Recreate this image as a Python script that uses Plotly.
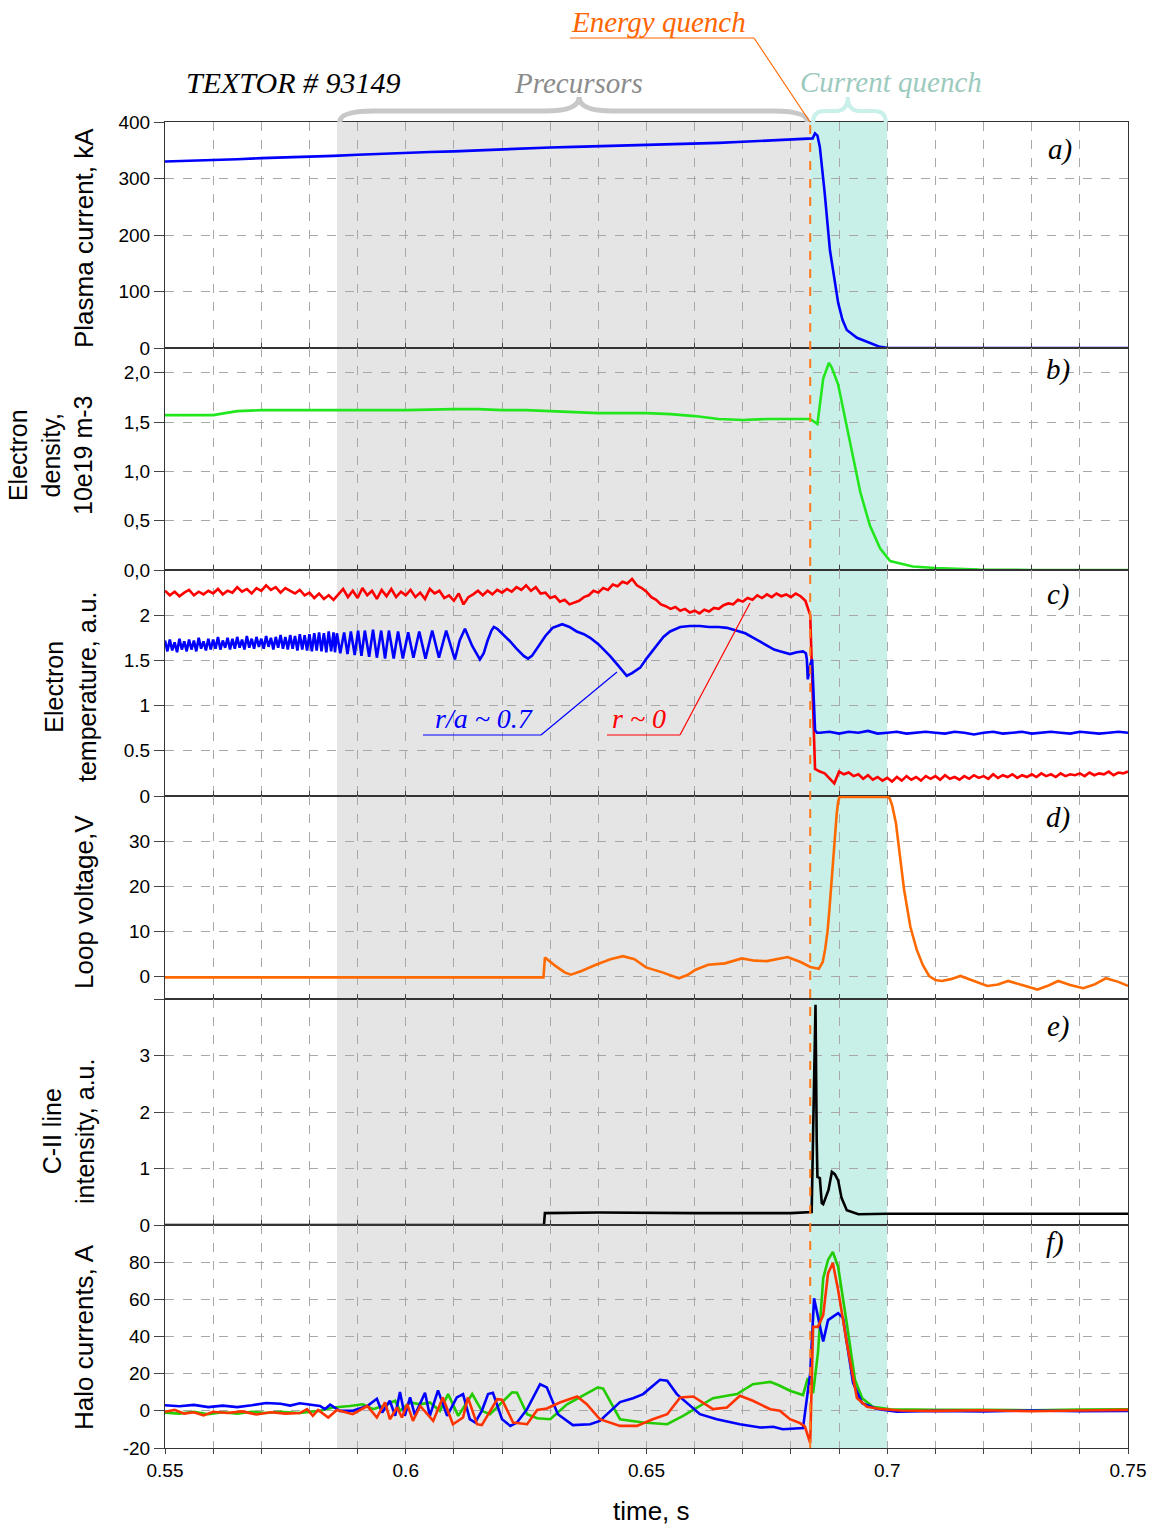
import numpy as np
import plotly.graph_objects as go
from plotly.subplots import make_subplots

# ---------------- data ----------------
# a) plasma current, kA
ip_t = [0.550, 0.555, 0.560, 0.565, 0.570, 0.575, 0.580, 0.585, 0.590, 0.595, 0.600, 0.605, 0.610, 0.615,
        0.620, 0.625, 0.630, 0.635, 0.640, 0.645, 0.650, 0.655, 0.660, 0.665, 0.670, 0.675, 0.680, 0.6835,
        0.6845, 0.6850, 0.6855, 0.6860, 0.6870, 0.6881, 0.6890, 0.6898, 0.6907, 0.6916, 0.6937, 0.6960,
        0.6985, 0.7000, 0.710, 0.720, 0.730, 0.740, 0.750]
ip = [330, 331, 333, 334, 336, 337, 339, 340, 342, 344, 346, 347, 348, 350,
      352, 353, 355, 356, 357, 358, 359, 360, 361, 363, 365, 367, 369, 370,
      371, 380, 376, 356, 275, 173, 120, 80, 50, 32, 18, 10,
      2, 0.5, 0, 0, 0, 0, 0]

# b) electron density, 1e19 m-3
ne_t = [0.550, 0.555, 0.560, 0.5625, 0.565, 0.570, 0.580, 0.590, 0.600, 0.610, 0.615, 0.620, 0.625, 0.630,
        0.635, 0.640, 0.645, 0.650, 0.655, 0.660, 0.665, 0.670, 0.675, 0.680, 0.684, 0.6855, 0.686, 0.6867,
        0.6879, 0.6885, 0.6898, 0.6910, 0.6923, 0.6944, 0.6964, 0.6985, 0.7006, 0.7053, 0.710, 0.719,
        0.730, 0.740, 0.750]
ne = [1.57, 1.57, 1.57, 1.59, 1.61, 1.62, 1.62, 1.62, 1.62, 1.63, 1.63, 1.62, 1.62, 1.61,
      1.60, 1.59, 1.59, 1.59, 1.58, 1.56, 1.53, 1.52, 1.53, 1.53, 1.53, 1.48, 1.65, 1.94,
      2.10, 2.05, 1.88, 1.60, 1.27, 0.79, 0.45, 0.22, 0.09, 0.035, 0.02, 0.005,
      0.0, 0.0, 0.0]

# c) electron temperature, r ~ 0 (sampled every 1 ms from 0.550 s to 0.750 s)
te_core_start, te_core_step = 0.550, 0.001
te_core = [2.27, 2.22, 2.26, 2.21, 2.25, 2.28, 2.22, 2.26, 2.23, 2.27,
           2.24, 2.29, 2.23, 2.27, 2.25, 2.31, 2.26, 2.29, 2.24, 2.30,
           2.27, 2.33, 2.28, 2.31, 2.25, 2.30, 2.27, 2.24, 2.28, 2.22,
           2.25, 2.19, 2.24, 2.18, 2.22, 2.17, 2.23, 2.29, 2.20, 2.27,
           2.19, 2.30, 2.22, 2.27, 2.18, 2.28, 2.21, 2.29, 2.20, 2.26,
           2.22, 2.28, 2.20, 2.25, 2.18, 2.29, 2.24, 2.27, 2.19, 2.22,
           2.16, 2.24, 2.12, 2.20, 2.23, 2.27, 2.22, 2.27, 2.23, 2.28,
           2.25, 2.29, 2.26, 2.31, 2.28, 2.33, 2.27, 2.31, 2.24, 2.25,
           2.19, 2.21, 2.15, 2.17, 2.12, 2.14, 2.16, 2.20, 2.22, 2.27,
           2.25, 2.30, 2.28, 2.34, 2.32, 2.37, 2.35, 2.40, 2.33, 2.30,
           2.26, 2.20, 2.17, 2.12, 2.10, 2.07, 2.09, 2.05, 2.07, 2.03,
           2.05, 2.02, 2.06, 2.04, 2.08, 2.07, 2.11, 2.13, 2.12, 2.17,
           2.15, 2.19, 2.17, 2.22, 2.19, 2.23, 2.20, 2.24, 2.21, 2.23,
           2.20, 2.24, 2.21, 2.16, 2.00,
           0.30, 0.27, 0.25, 0.20, 0.14,
           0.27, 0.24, 0.26, 0.22, 0.24, 0.19, 0.23, 0.18, 0.21, 0.17,
           0.20, 0.16, 0.21, 0.17, 0.22, 0.18, 0.21, 0.17, 0.22, 0.19,
           0.22, 0.18, 0.23, 0.19, 0.21, 0.18, 0.22, 0.19, 0.23, 0.20,
           0.22, 0.19, 0.24, 0.20, 0.23, 0.21, 0.24, 0.20, 0.23, 0.21,
           0.24, 0.21, 0.25, 0.22, 0.24, 0.21, 0.25, 0.22, 0.24, 0.23,
           0.25, 0.22, 0.26, 0.23, 0.25, 0.24, 0.27, 0.23, 0.26, 0.25,
           0.27]

# c) electron temperature, r/a ~ 0.7
# dense part sampled every 0.5 ms from 0.5500 s to 0.5850 s
te_edge_dense_start, te_edge_dense_step = 0.5500, 0.0005
te_edge_dense = [1.72, 1.60, 1.73, 1.61, 1.70, 1.59, 1.74, 1.62, 1.71, 1.60,
                 1.73, 1.62, 1.72, 1.60, 1.75, 1.63, 1.71, 1.61, 1.74, 1.62,
                 1.73, 1.63, 1.76, 1.62, 1.72, 1.64, 1.75, 1.62, 1.74, 1.63,
                 1.76, 1.64, 1.73, 1.62, 1.77, 1.64, 1.74, 1.63, 1.76, 1.65,
                 1.74, 1.63, 1.77, 1.65, 1.75, 1.62, 1.76, 1.64, 1.78, 1.63,
                 1.76, 1.62, 1.78, 1.63, 1.77, 1.61, 1.79, 1.62, 1.78, 1.61,
                 1.79, 1.60, 1.80, 1.61, 1.81, 1.60, 1.80, 1.59, 1.82, 1.60,
                 1.81]
te_edge_osc_t = [0.5853, 0.5857, 0.5864, 0.5872, 0.5879, 0.5886, 0.5894, 0.5901, 0.5908, 0.5915,
                 0.5924, 0.5932, 0.5940, 0.5949, 0.5957, 0.5965, 0.5975, 0.5984, 0.5994, 0.6005,
                 0.6016, 0.6028, 0.6041, 0.6055, 0.6069, 0.6084, 0.6102, 0.6112, 0.6123, 0.6138,
                 0.6154, 0.6162, 0.6170, 0.6178, 0.6183, 0.6190, 0.6200, 0.6215, 0.6230, 0.6245,
                 0.6254, 0.6262, 0.6275, 0.6290, 0.6305, 0.6325, 0.6340, 0.6355, 0.6370, 0.6383,
                 0.6400, 0.6415, 0.6424, 0.6440, 0.6452, 0.6459, 0.6470, 0.6487, 0.6500, 0.6518,
                 0.6535, 0.6549, 0.6570, 0.6590, 0.6611, 0.6630, 0.6650, 0.6667, 0.6685, 0.6705,
                 0.6725, 0.6750, 0.6765, 0.6777, 0.6798, 0.6812, 0.6825, 0.6831, 0.6833, 0.6835,
                 0.6840, 0.6844, 0.6846, 0.6850, 0.6854]
te_edge_osc = [1.59, 1.80, 1.58, 1.81, 1.57, 1.82, 1.56, 1.83, 1.55, 1.83,
               1.54, 1.84, 1.53, 1.83, 1.52, 1.83, 1.52, 1.82, 1.52, 1.81,
               1.53, 1.82, 1.52, 1.83, 1.53, 1.83, 1.51, 1.72, 1.85, 1.66,
               1.51, 1.58, 1.72, 1.83, 1.87, 1.85, 1.80, 1.72, 1.63, 1.55,
               1.52, 1.55, 1.65, 1.77, 1.86, 1.90, 1.87, 1.82, 1.79, 1.75,
               1.68, 1.60, 1.55, 1.45, 1.38, 1.33, 1.36, 1.42, 1.52, 1.65,
               1.76, 1.82, 1.87, 1.88, 1.88, 1.87, 1.87, 1.86, 1.83, 1.80,
               1.74, 1.66, 1.62, 1.60, 1.57, 1.59, 1.60, 1.58, 1.51, 1.29,
               1.45, 1.51, 1.30, 0.73, 0.70]
# after the quench, every 2 ms from 0.686 s to 0.750 s
te_edge_post_start, te_edge_post_step = 0.686, 0.002
te_edge_post = [0.70, 0.71, 0.69, 0.71, 0.70, 0.72, 0.69, 0.70, 0.71, 0.69,
                0.70, 0.71, 0.70, 0.69, 0.71, 0.70, 0.68, 0.70, 0.71, 0.69,
                0.70, 0.71, 0.69, 0.70, 0.71, 0.70, 0.69, 0.71, 0.70, 0.69,
                0.70, 0.71, 0.70]

# d) loop voltage, V
lv_t = [0.550, 0.6000, 0.6286, 0.6289, 0.6310, 0.6330, 0.6343, 0.6365, 0.6395, 0.6425, 0.6451, 0.6475,
        0.6499, 0.6533, 0.6567, 0.6585, 0.6602, 0.6628, 0.6663, 0.6698, 0.6725, 0.6750, 0.6793, 0.6820,
        0.6840, 0.6858, 0.6866, 0.6871, 0.6876, 0.6880, 0.6884, 0.6888, 0.6892, 0.6895, 0.6898, 0.6901,
        0.6950, 0.7000, 0.7005, 0.7010, 0.7018, 0.7026, 0.7035, 0.7048, 0.7061, 0.7074, 0.7087, 0.7100,
        0.7113, 0.7132, 0.7152, 0.7180, 0.7208, 0.7230, 0.7251, 0.7280, 0.7312, 0.7335, 0.7355, 0.7380,
        0.7407, 0.7430, 0.7454, 0.7480, 0.7500]
lv = [-0.2, -0.2, -0.2, 4.2, 2.4, 0.9, 0.4, 1.2, 2.6, 3.8, 4.5, 3.8,
      2.0, 0.9, -0.4, 0.3, 1.5, 2.6, 2.9, 4.0, 3.5, 3.4, 4.3, 3.2,
      2.1, 1.7, 3.2, 6.0, 10.0, 15.0, 21.0, 26.6, 32.0, 36.0, 38.8, 39.8,
      39.8, 39.8, 39.5, 38.0, 34.0, 27.0, 19.2, 11.0, 6.0, 2.5, 0.1, -0.8,
      -1.0, -0.6, 0.1, -1.0, -2.1, -1.8, -1.0, -1.9, -2.9, -2.0, -1.0, -1.9,
      -2.6, -1.8, -0.4, -1.2, -2.1]

# e) C-II line intensity, a.u.
c2_t = [0.5500, 0.6287, 0.6289, 0.6400, 0.6600, 0.6800, 0.6843, 0.6847, 0.6851, 0.68535, 0.6855, 0.6860,
        0.6864, 0.6867, 0.6878, 0.6885, 0.6891, 0.6898, 0.6905, 0.6916, 0.6940, 0.7000, 0.7200, 0.7500]
c2 = [0.0, 0.0, 0.21, 0.22, 0.21, 0.21, 0.23, 2.2, 3.9, 1.5, 0.85, 0.83,
      0.39, 0.37, 0.62, 0.94, 0.90, 0.79, 0.48, 0.26, 0.19, 0.20, 0.20, 0.20]

# f) halo currents, A
halo_blue_t = [0.550, 0.553, 0.556, 0.559, 0.562, 0.565, 0.568, 0.571, 0.574, 0.576,
               0.5780, 0.5801, 0.5822, 0.5832, 0.5843, 0.5863, 0.5890, 0.5920, 0.5940, 0.5951,
               0.5967, 0.5978, 0.5988, 0.5998, 0.6009, 0.6019, 0.6040, 0.6050, 0.6067, 0.6086,
               0.6106, 0.6119, 0.6133, 0.6144, 0.6158, 0.6171, 0.6181, 0.6200, 0.6217, 0.6231,
               0.6252, 0.6279, 0.6293, 0.6316, 0.6347, 0.6383, 0.6403, 0.6445, 0.6472, 0.6493,
               0.6528, 0.6543, 0.6563, 0.6611, 0.6646, 0.6694, 0.6736, 0.6763, 0.6783, 0.6825,
               0.6840, 0.6848, 0.6867, 0.6877, 0.6898, 0.6908, 0.6929, 0.6948, 0.6979, 0.7020,
               0.710, 0.720, 0.730, 0.740, 0.750]
halo_blue = [3.0, 2.5, 3.2, 2.0, 2.8, 2.0, 3.0, 4.2, 3.8, 2.8,
             4.1, 3.3, 2.6, 0.9, 3.3, 0.0, 0.0, 2.6, 6.5, -0.9,
             5.4, -2.7, 10.1, -2.7, 7.2, -2.3, 9.7, -2.7, 11.0, -2.7,
             7.2, 9.0, -4.5, -6.3, 0.0, 9.0, 9.7, -4.5, -8.1, -6.3,
             0.9, 14.3, 12.6, -1.8, -7.7, -7.2, -5.4, 4.7, 6.8, 9.0,
             16.7, 16.2, 9.0, -1.8, -4.5, -7.2, -9.0, -8.6, -9.9, -9.3,
             20.3, 60.6, 37.3, 48.8, 52.5, 50.0, 15.0, 4.1, 1.0, -0.5,
             0.0, -0.3, 0.2, -0.2, 0.0]
halo_green_t = [0.550, 0.553, 0.556, 0.559, 0.562, 0.565, 0.568, 0.571, 0.574, 0.576,
                0.5780, 0.5822, 0.5849, 0.5884, 0.5911, 0.5932, 0.5953, 0.5978, 0.5988, 0.6009,
                0.6030, 0.6050, 0.6071, 0.6088, 0.6109, 0.6138, 0.6158, 0.6175, 0.6196, 0.6221,
                0.6231, 0.6252, 0.6273, 0.6300, 0.6335, 0.6368, 0.6399, 0.6410, 0.6445, 0.6493,
                0.6532, 0.6543, 0.6576, 0.6617, 0.6638, 0.6667, 0.6688, 0.6721, 0.6757, 0.6777,
                0.6798, 0.6825, 0.6835, 0.6846, 0.6856, 0.6867, 0.6877, 0.6887, 0.6898, 0.6916,
                0.6933, 0.6948, 0.6970, 0.7006, 0.710, 0.720, 0.730, 0.740, 0.750]
halo_green = [-1.0, -1.5, -0.5, -1.8, -0.8, -1.5, -0.5, -1.2, -0.5, -1.0,
              -1.2, 0.0, 1.8, 2.6, 3.5, 0.9, 2.6, 5.4, 0.0, 4.5,
              3.5, 4.5, 0.0, 9.0, -2.7, 9.0, 0.0, -1.8, 3.6, 10.0,
              9.7, -1.8, -4.0, -4.5, 3.5, 8.0, 12.6, 12.0, -4.5, -6.3,
              -7.2, -7.2, -2.7, 3.6, 6.8, 8.1, 9.0, 14.3, 15.6, 13.5,
              10.8, 8.5, 17.6, 9.5, 31.0, 71.4, 81.2, 85.5, 77.5, 47.0,
              16.6, 6.8, 2.2, 0.8, 0.5, 0.6, 0.3, 0.7, 0.8]
halo_red_t = [0.550, 0.552, 0.554, 0.556, 0.558, 0.560, 0.563, 0.566, 0.569, 0.572, 0.575,
              0.5780, 0.5795, 0.5807, 0.5818, 0.5839, 0.5857, 0.5890, 0.5920, 0.5940, 0.5957,
              0.5967, 0.5982, 0.5992, 0.6003, 0.6015, 0.6030, 0.6057, 0.6077, 0.6098, 0.6119,
              0.6129, 0.6148, 0.6158, 0.6190, 0.6200, 0.6223, 0.6252, 0.6273, 0.6293, 0.6320,
              0.6356, 0.6376, 0.6403, 0.6445, 0.6480, 0.6513, 0.6543, 0.6570, 0.6597, 0.6638,
              0.6667, 0.6694, 0.6721, 0.6757, 0.6777, 0.6798, 0.6819, 0.6829, 0.6840, 0.6846,
              0.6856, 0.6867, 0.6877, 0.6887, 0.6898, 0.6916, 0.6937, 0.6958, 0.6985, 0.7027,
              0.710, 0.720, 0.730, 0.740, 0.750]
halo_red = [-0.5, 0.5, -1.5, -0.8, -2.5, -0.5, -1.2, -0.3, -2.0, -0.8, -1.5,
            -1.2, 0.9, -2.7, 0.5, -3.6, 0.5, -1.8, 2.6, -3.6, 4.5,
            -4.5, 1.8, -3.6, 3.6, -5.4, 2.6, -5.4, 7.2, -7.2, -3.6,
            7.2, -7.2, -7.7, 6.3, 6.0, -6.3, -7.2, 0.5, 1.3, 4.5,
            7.7, 3.6, -4.5, -8.1, -8.1, -4.5, -1.8, 7.2, 7.7, 0.9,
            1.8, 8.1, 5.4, 0.9, 0.0, -4.5, -6.6, -8.5, -17.3, 45.2,
            45.2, 51.5, 74.0, 79.5, 65.0, 36.5, 6.9, 2.2, 1.0, 0.2,
            0.0, 0.3, -0.2, 0.2, 0.5]

# phases (s)
precursor_start = 0.5857
energy_quench = 0.684
current_quench_end = 0.700

# axis ticks
x_tick_vals = [round(0.55 + 0.01 * i, 2) for i in range(21)]
x_tick_labels = {0.55: "0.55", 0.6: "0.6", 0.65: "0.65", 0.7: "0.7", 0.75: "0.75"}
y_ticks = [
    ([0, 100, 200, 300, 400], ["0", "100", "200", "300", "400"], [0, 400]),
    ([0, 0.5, 1.0, 1.5, 2.0], ["0,0", "0,5", "1,0", "1,5", "2,0"], [0, 2.25]),
    ([0, 0.5, 1, 1.5, 2], ["0", "0.5", "1", "1.5", "2"], [0, 2.5]),
    ([-5, 0, 10, 20, 30], ["", "0", "10", "20", "30"], [-5, 40]),
    ([0, 1, 2, 3], ["0", "1", "2", "3"], [0, 4]),
    ([-20, 0, 20, 40, 60, 80], ["-20", "0", "20", "40", "60", "80"], [-20, 100]),
]
y_titles = ["Plasma current, kA", "Electron<br>density,<br>10e19 m-3", "Electron<br>temperature, a.u.",
            "Loop voltage,V", "C-II line<br>intensity, a.u.", "Halo currents, A"]
panel_labels = ["a)", "b)", "c)", "d)", "e)", "f)"]

# ---------------- figure ----------------
W, H = 1157, 1528
PL, PR, PT, PB = 165, 1128, 122, 1448          # plot area in page pixels
PW, PH = PR - PL, PB - PT
L, T = PL, PT
R, B = W - L - PW, H - T - PH


def px(xp):
    return (xp - PL) / PW


def py(yp):
    return (PB - yp) / PH


fig = make_subplots(rows=6, cols=1, shared_xaxes=True, vertical_spacing=0,
                    row_heights=[226, 222, 226, 203, 226, 223])

LW = 2.6
fig.add_trace(go.Scatter(x=ip_t, y=ip, mode="lines", line=dict(color="#0000ff", width=LW)), row=1, col=1)
fig.add_trace(go.Scatter(x=ne_t, y=ne, mode="lines", line=dict(color="#22e61e", width=LW)), row=2, col=1)

te_core_t = np.round(te_core_start + te_core_step * np.arange(len(te_core)), 4)
fig.add_trace(go.Scatter(x=te_core_t, y=te_core, mode="lines", line=dict(color="#ff0000", width=LW)), row=3, col=1)
te_edge_t = np.concatenate([
    np.round(te_edge_dense_start + te_edge_dense_step * np.arange(len(te_edge_dense)), 4),
    np.array(te_edge_osc_t),
    np.round(te_edge_post_start + te_edge_post_step * np.arange(len(te_edge_post)), 4)])
te_edge = list(te_edge_dense) + list(te_edge_osc) + list(te_edge_post)
fig.add_trace(go.Scatter(x=te_edge_t, y=te_edge, mode="lines", line=dict(color="#0000ff", width=LW)), row=3, col=1)

fig.add_trace(go.Scatter(x=lv_t, y=lv, mode="lines", line=dict(color="#ff6a00", width=LW)), row=4, col=1)
fig.add_trace(go.Scatter(x=c2_t, y=c2, mode="lines", line=dict(color="#000000", width=LW)), row=5, col=1)
fig.add_trace(go.Scatter(x=halo_green_t, y=halo_green, mode="lines", line=dict(color="#22cc00", width=LW)), row=6, col=1)
fig.add_trace(go.Scatter(x=halo_blue_t, y=halo_blue, mode="lines", line=dict(color="#0000ff", width=LW)), row=6, col=1)
fig.add_trace(go.Scatter(x=halo_red_t, y=halo_red, mode="lines", line=dict(color="#ff3300", width=LW)), row=6, col=1)

grid = dict(showgrid=True, gridcolor="#a8a8a8", griddash="dash", gridwidth=1)
for i in range(1, 7):
    fig.update_xaxes(row=i, col=1, range=[0.55, 0.75], tickvals=x_tick_vals,
                     ticktext=[x_tick_labels.get(v, "") for v in x_tick_vals],
                     showline=True, linecolor="#333", linewidth=1.2, mirror=True,
                     ticks="inside" if i < 6 else "outside", ticklen=5, tickcolor="#444",
                     zeroline=False, tickfont=dict(size=19, color="black"), **grid)
    vals, texts, rng = y_ticks[i - 1]
    fig.update_yaxes(row=i, col=1, range=rng, tickvals=vals, ticktext=texts,
                     showline=True, linecolor="#333", linewidth=1.2, mirror=True,
                     ticks="outside", ticklen=10, tickcolor="#444", zeroline=False,
                     tickfont=dict(size=19, color="black"), **grid)

shapes = []
for i in range(1, 7):
    xr = "x" if i == 1 else f"x{i}"
    yr = ("y" if i == 1 else f"y{i}") + " domain"
    shapes.append(dict(type="rect", xref=xr, yref=yr, x0=precursor_start, x1=energy_quench, y0=0, y1=1,
                       fillcolor="#e5e5e5", line=dict(width=0), layer="below"))
    shapes.append(dict(type="rect", xref=xr, yref=yr, x0=energy_quench, x1=current_quench_end, y0=0, y1=1,
                       fillcolor="#c8f0e9", line=dict(width=0), layer="below"))

# energy quench dashed line
shapes.append(dict(type="line", xref="x", yref="paper", x0=energy_quench, x1=energy_quench, y0=0, y1=1,
                   line=dict(color="#ff7a1a", width=2, dash="dash"), layer="above"))


def brace(x0, x1, xt, yb, ym, ytip, d):
    return (f"M {x0},{yb} Q {x0},{ym} {x0 + d},{ym} L {xt - d},{ym} Q {xt},{ym} {xt},{ytip} "
            f"Q {xt},{ym} {xt + d},{ym} L {x1 - d},{ym} Q {x1},{ym} {x1},{yb}")


shapes.append(dict(type="path", xref="x", yref="paper",
                   path=brace(precursor_start + 0.0006, energy_quench - 0.0006, 0.636, 1.0, py(111), py(97), 0.007),
                   line=dict(color="#c8c8c8", width=5)))
shapes.append(dict(type="path", xref="x", yref="paper",
                   path=brace(energy_quench + 0.0006, current_quench_end - 0.0003, 0.6918, 1.0, py(111), py(97), 0.0025),
                   line=dict(color="#c9f1ea", width=4)))


# leader lines
def seg(x0, y0, x1, y1, color):
    return dict(type="line", xref="paper", yref="paper", x0=x0, y0=y0, x1=x1, y1=y1,
                line=dict(color=color, width=1.2))


shapes += [seg(px(570), py(38), px(754), py(38), "#ff6600"),
           seg(px(754), py(38), px(810), py(122), "#ff6600"),
           seg(px(423), py(735), px(541), py(735), "#0000ff"),
           seg(px(541), py(735), px(617), py(672), "#0000ff"),
           seg(px(607), py(735), px(680), py(735), "#ff0000"),
           seg(px(680), py(735), px(750), py(603), "#ff0000")]

serif = "Liberation Serif, Times New Roman, serif"
sans = "Liberation Sans, Arial, sans-serif"
ann = []


def txt(text, xp, yp, size, color, **kw):
    d = dict(text=text, x=px(xp), y=py(yp), xref="paper", yref="paper", showarrow=False,
             font=dict(family=serif, size=size, color=color), xanchor="center", yanchor="middle")
    d.update(kw)
    return d


ann.append(txt("<i>TEXTOR # 93149</i>", 293, 82, 30, "#000000"))
ann.append(txt("<i>Precursors</i>", 578, 83, 29, "#8c8c8c"))
ann.append(txt("<i>Current quench</i>", 891, 82, 29, "#9ccabe"))
ann.append(txt("<i>Energy quench</i>", 658, 22, 29, "#ff6600"))
ann.append(txt("<i>r/a ~ 0.7</i>", 484, 719, 28, "#0000ff"))
ann.append(txt("<i>r ~ 0</i>", 639, 719, 28, "#ff0000"))

label_pos = [(1060, 149), (1058, 369), (1058, 594), (1058, 817), (1058, 1026), (1055, 1242)]
for lab, (xp, yp) in zip(panel_labels, label_pos):
    ann.append(txt(f"<i>{lab}</i>", xp, yp, 29, "#000000"))

title_pos = [(84, 238), (50, 455), (70, 687), (84, 902), (68, 1132), (84, 1337)]
title_size = [26, 25, 25, 26, 25, 26]
for t, (xp, yp), s in zip(y_titles, title_pos, title_size):
    ann.append(dict(text=t, x=px(xp), y=py(yp), xref="paper", yref="paper", showarrow=False,
                    textangle=-90, font=dict(family=sans, size=s, color="black"),
                    xanchor="center", yanchor="middle"))
ann.append(dict(text="time, s", x=px(651), y=py(1511), xref="paper", yref="paper", showarrow=False,
                font=dict(family=sans, size=26, color="black"), xanchor="center", yanchor="middle"))

fig.update_layout(width=W, height=H, margin=dict(l=L, r=R, t=T, b=B, autoexpand=False),
                  showlegend=False, paper_bgcolor="white", plot_bgcolor="white",
                  font=dict(family=sans, color="black"),
                  shapes=shapes, annotations=ann)

# remove the browser's default body margin so the figure fills the window exactly
fig.write_html("out.html", config={"displayModeBar": False},
               post_script="document.body.style.margin='0px';document.body.style.overflow='hidden';")
